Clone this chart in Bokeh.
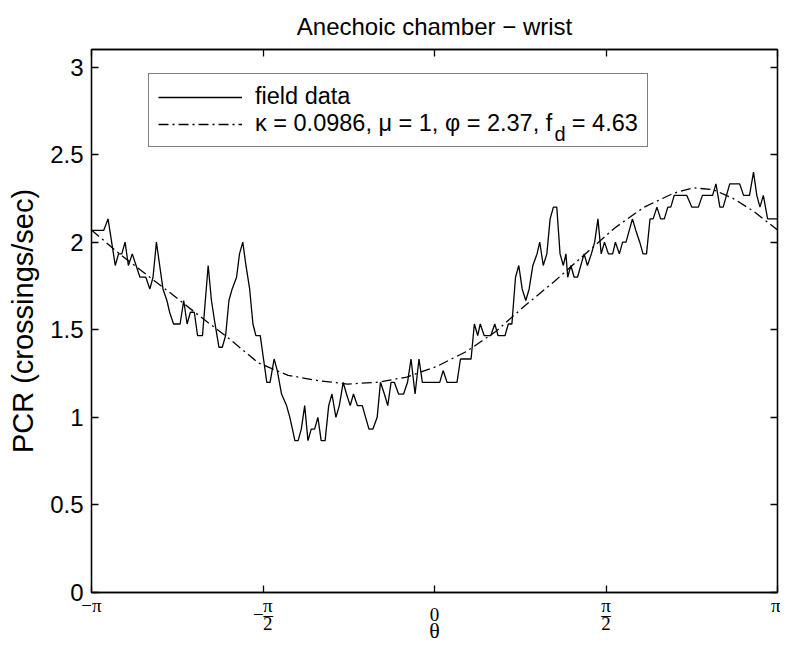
import math
from bokeh.plotting import figure
from bokeh.models import Range1d, FixedTicker, LinearAxis, Legend, LegendItem, Label
from bokeh.embed import file_html
from bokeh.resources import INLINE

PI = math.pi

# ---- data ----
field_theta = [
    -3.142, -3.030, -2.990, -2.924, -2.894, -2.864, -2.834, -2.804, -2.768, -2.698,
    -2.644, -2.607, -2.578, -2.547, -2.487, -2.451, -2.426, -2.390, -2.330, -2.297,
    -2.266, -2.236, -2.200, -2.170, -2.125, -2.073, -2.043, -2.010, -1.974, -1.944,
    -1.913, -1.883, -1.853, -1.813, -1.786, -1.756, -1.727, -1.693, -1.663, -1.636,
    -1.596, -1.566, -1.536, -1.506, -1.469, -1.440, -1.401, -1.355, -1.325, -1.301,
    -1.279, -1.249, -1.220, -1.189, -1.159, -1.129, -1.098, -1.068, -1.038, -1.002,
    -0.969, -0.939, -0.903, -0.872, -0.836, -0.806, -0.772, -0.742, -0.706, -0.661,
    -0.631, -0.600, -0.564, -0.525, -0.495, -0.459, -0.428, -0.398, -0.368, -0.329,
    -0.283, -0.247, -0.215, -0.178, -0.142, -0.111, 0.048, 0.079, 0.115, 0.206,
    0.238, 0.335, 0.365, 0.396, 0.419, 0.455, 0.516, 0.552, 0.582, 0.646,
    0.676, 0.709, 0.742, 0.772, 0.803, 0.836, 0.867, 0.901, 0.939, 0.964,
    0.996, 1.029, 1.059, 1.089, 1.120, 1.150, 1.180, 1.204, 1.220, 1.249,
    1.279, 1.310, 1.340, 1.370, 1.401, 1.437, 1.467, 1.497, 1.527, 1.557,
    1.593, 1.632, 1.657, 1.693, 1.723, 1.754, 1.784, 1.813, 1.844, 1.880,
    1.910, 1.942, 1.974, 2.003, 2.037, 2.071, 2.105, 2.137, 2.164, 2.196,
    2.311, 2.357, 2.417, 2.454, 2.547, 2.578, 2.614, 2.644, 2.704, 2.795,
    2.831, 2.885, 2.922, 2.952, 2.981, 3.012, 3.051, 3.142,
]
field_pcr = [
    2.067, 2.067, 2.133, 1.867, 1.933, 1.933, 2.0, 1.867, 1.933, 1.8,
    1.8, 1.733, 1.8, 2.0, 1.733, 1.667, 1.6, 1.533, 1.533, 1.667,
    1.533, 1.6, 1.6, 1.467, 1.467, 1.867, 1.667, 1.533, 1.4, 1.4,
    1.467, 1.667, 1.733, 1.8, 1.933, 2.0, 1.867, 1.733, 1.533, 1.467,
    1.467, 1.333, 1.2, 1.2, 1.333, 1.267, 1.133, 1.067, 1.0, 0.933,
    0.867, 0.867, 0.933, 1.067, 0.867, 0.933, 0.933, 1.0, 0.867, 0.867,
    1.067, 1.133, 1.0, 1.067, 1.2, 1.133, 1.067, 1.133, 1.067, 1.067,
    1.0, 0.933, 0.933, 1.0, 1.2, 1.133, 1.067, 1.2, 1.2, 1.133,
    1.133, 1.2, 1.333, 1.133, 1.333, 1.2, 1.2, 1.267, 1.2, 1.2,
    1.333, 1.333, 1.533, 1.467, 1.533, 1.467, 1.467, 1.533, 1.467, 1.467,
    1.533, 1.533, 1.8, 1.867, 1.733, 1.667, 1.733, 1.867, 1.933, 2.0,
    1.867, 1.933, 2.133, 2.2, 2.2, 1.933, 1.867, 1.933, 1.8, 1.867,
    1.8, 1.8, 1.867, 1.933, 1.867, 1.933, 2.0, 2.133, 1.933, 2.0,
    1.933, 1.933, 2.0, 1.933, 2.0, 2.0, 2.067, 2.133, 2.067, 2.0,
    1.933, 1.933, 2.133, 2.133, 2.2, 2.133, 2.133, 2.2, 2.2, 2.267,
    2.267, 2.2, 2.2, 2.267, 2.267, 2.333, 2.2, 2.2, 2.333, 2.333,
    2.267, 2.267, 2.4, 2.267, 2.2, 2.267, 2.133, 2.133,
]

fit_theta = [-3.142, -2.879, -2.607, -2.336, -2.155, -1.883, -1.612, -1.340, -1.068,
             -0.797, -0.525, -0.254, 0.018, 0.290, 0.561, 0.833, 1.105, 1.376, 1.648,
             1.920, 2.191, 2.372, 2.553, 2.734, 2.915, 3.142]
fit_pcr = [2.07, 1.93, 1.80, 1.67, 1.58, 1.45, 1.31, 1.24, 1.21,
           1.19, 1.20, 1.23, 1.29, 1.375, 1.49, 1.64, 1.78, 1.93, 2.08,
           2.20, 2.28, 2.31, 2.30, 2.25, 2.18, 2.07]

y_ticks = [0, 0.5, 1, 1.5, 2, 2.5, 3]
y_tick_labels = ["0", "0.5", "1", "1.5", "2", "2.5", "3"]
x_ticks = [-PI, -PI / 2, 0, PI / 2, PI]
x_tick_labels = ["−π", "−π/2", "0", "π/2", "π"]

title_text = "Anechoic chamber − wrist"
x_label = "θ"
y_label = "PCR (crossings/sec)"
legend_labels = ["field data", "κ = 0.0986, μ = 1, φ = 2.37, f   = 4.63"]
legend_subscript = "d"

SANS = "Liberation Sans"
SERIF = "Liberation Serif"
FS = "24px"
ENSP = "\u2002"


def stacked(lab):
    """Render 'a/b' tick labels as a stacked fraction on three text lines."""
    if "/" not in lab:
        return lab if "π" in lab else "\n" + lab
    neg = lab.startswith("−")
    num, den = lab.lstrip("−").split("/")
    if neg:
        return ENSP + num + "\n−–\n" + ENSP + den
    return num + "\n–\n" + den


p = figure(width=780, height=646, x_range=Range1d(-PI, PI), y_range=Range1d(0, 3.1),
           output_backend="svg", toolbar_location=None,
           min_border_left=91, min_border_right=3, min_border_top=49, min_border_bottom=50)
p.background_fill_color = "white"
p.border_fill_color = "white"
p.outline_line_color = "black"
p.outline_line_width = 1.3
p.grid.visible = False

p.title.text = title_text
p.title.align = "center"
p.title.text_font = SANS
p.title.text_font_size = FS
p.title.text_font_style = "normal"
p.title.text_color = "black"
p.title.standoff = 19

# left axis
ya = p.yaxis[0]
ya.ticker = FixedTicker(ticks=y_ticks)
ya.major_label_overrides = {t: s for t, s in zip(y_ticks, y_tick_labels)}
ya.major_label_text_font = SANS
ya.major_label_text_font_size = FS
ya.major_label_text_color = "black"
ya.major_tick_in = 7
ya.major_tick_out = 0
ya.minor_tick_line_color = None
ya.axis_line_color = "black"
ya.axis_line_width = 1.3
ya.major_tick_line_width = 1.3
ya.major_label_standoff = 8
ya.axis_label = y_label
ya.axis_label_text_font = SANS
ya.axis_label_text_font_size = "29px"
ya.axis_label_text_font_style = "normal"
ya.axis_label_text_color = "black"
ya.axis_label_standoff = 8

# bottom axis
xa = p.xaxis[0]
xa.ticker = FixedTicker(ticks=x_ticks)
xa.major_label_overrides = {t: stacked(s) for t, s in zip(x_ticks, x_tick_labels)}
xa.major_label_text_font = SERIF
xa.major_label_text_font_size = "19px"
xa.major_label_text_line_height = 0.45
xa.major_label_text_color = "black"
xa.major_label_standoff = 2
xa.major_tick_in = 7
xa.major_tick_out = 0
xa.minor_tick_line_color = None
xa.axis_line_color = "black"
xa.axis_line_width = 1.3
xa.major_tick_line_width = 1.3
xa.axis_label = x_label
xa.axis_label_text_font = SERIF
xa.axis_label_text_font_size = "22px"
xa.axis_label_text_font_style = "normal"
xa.axis_label_text_color = "black"
xa.axis_label_standoff = -19

# right & top axes (ticks only)
ra = LinearAxis(ticker=FixedTicker(ticks=y_ticks), major_label_text_color=None,
                major_label_text_font_size="0px",
                major_tick_in=7, major_tick_out=0, minor_tick_line_color=None,
                major_label_standoff=0, axis_label_standoff=0,
                axis_line_width=1.3, major_tick_line_width=1.3)
ra.major_label_overrides = {t: "" for t in y_ticks}
p.add_layout(ra, "right")
ta = LinearAxis(ticker=FixedTicker(ticks=x_ticks), major_label_text_color=None,
                major_label_text_font_size="0px",
                major_tick_in=7, major_tick_out=0, minor_tick_line_color=None,
                major_label_standoff=0, axis_label_standoff=0,
                axis_line_width=1.3, major_tick_line_width=1.3)
ta.major_label_overrides = {t: "" for t in x_ticks}
p.add_layout(ta, "above")

# data
r1 = p.line(field_theta, field_pcr, line_color="black", line_width=1.3)
r2 = p.line(fit_theta, fit_pcr, line_color="black", line_width=1.3, line_dash="10 4 2 4")

legend = Legend(items=[LegendItem(label=legend_labels[0], renderers=[r1]),
                       LegendItem(label=legend_labels[1], renderers=[r2])],
                location=(57, 445), padding=9, spacing=0, margin=0,
                glyph_width=84, glyph_height=20, label_standoff=13, label_height=20,
                label_text_font=SANS, label_text_font_size="23.5px", label_text_color="black",
                border_line_color="black", border_line_width=1.3,
                background_fill_color="white", background_fill_alpha=0.0)
p.add_layout(legend)

p.add_layout(Label(x=1.099, y=2.62, text=legend_subscript,
                   text_font=SANS, text_font_size="20px", text_color="black",
                   text_align="left", text_baseline="middle", level="overlay"))

open("out.html", "w").write(file_html(p, INLINE))
